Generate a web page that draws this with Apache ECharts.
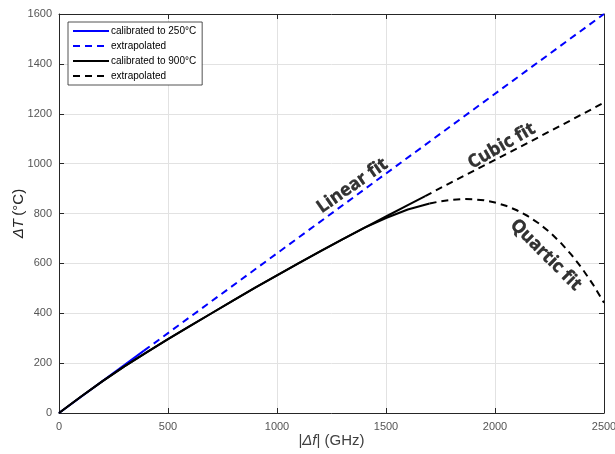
<!DOCTYPE html>
<html><head><meta charset="utf-8">
<script src="https://cdn.jsdelivr.net/npm/echarts@6/dist/echarts.min.js"></script>
<style>html,body{margin:0;padding:0;background:#fff}#c{width:615px;height:454px}</style>
</head><body><div id="c"></div>
<script>
// ---- data ----
const blueSolidF = [0, 390];
const blueSolidT = [0, 250];
const blueDashF = [390, 2500];
const blueDashT = [250, 1600];

const cubicSolidF = [0,100,200,300,400,500,600,700,800,900,1000,1100,1200,1300,1400,1500,1600,1680];
const cubicSolidT = [0,65,128,187,242,296,348,400,452,503,552,601,649,696,742,788,834,870];
const cubicDashF = [1680,1800,1900,2000,2100,2200,2300,2400,2500];
const cubicDashT = [870,925,970,1015,1060,1106,1152,1198,1245];

const quarticSolidF = [0,100,200,300,400,500,600,700,800,900,1000,1100,1200,1300,1400,1500,1600,1700];
const quarticSolidT = [0,65,128,187,242,296,348,400,452,503,552,601,649,696,742,782,816,840];
const quarticDashF = [1700,1750,1800,1850,1900,1950,2000,2050,2100,2150,2200,2250,2300,2350,2400,2450,2500];
const quarticDashT = [840,849,855,858,857,853,844,831,813,790,761,726,684,635,579,515,442];

const legendNames = ['calibrated to 250\u00b0C', 'extrapolated', 'calibrated to 900\u00b0C', 'extrapolated '];

const annoText = ['Linear fit', 'Cubic fit', 'Quartic fit'];
const annoF = [1346, 2031, 2233];
const annoT = [911, 1071, 634];
const annoAngle = [35, 30, -45];

const xMin = 0, xMax = 2500, xStep = 500;
const yMin = 0, yMax = 1600, yStep = 200;

// ---- build ----
const zip = (a, b) => a.map((v, i) => [v, b[i]]);
const lineSeries = (name, fx, ty, color, dashed) => ({
  type: 'line', name: name, data: zip(fx, ty), showSymbol: false, symbol: 'none',
  xAxisIndex: 0, yAxisIndex: 0, animation: false, silent: true,
  lineStyle: { color: color, width: 2, type: dashed ? [7, 5] : 'solid' },
  itemStyle: { color: color }
});

const series = [
  lineSeries(legendNames[0], blueSolidF, blueSolidT, '#0000ff', false),
  lineSeries(legendNames[1], blueDashF, blueDashT, '#0000ff', true),
  lineSeries(legendNames[2], cubicSolidF, cubicSolidT, '#000000', false),
  lineSeries(legendNames[2], quarticSolidF, quarticSolidT, '#000000', false),
  lineSeries(legendNames[3], cubicDashF, cubicDashT, '#000000', true),
  lineSeries(legendNames[3], quarticDashF, quarticDashT, '#000000', true)
];
annoText.forEach((t, i) => {
  series.push({
    type: 'scatter', name: 'anno' + i, data: [[annoF[i], annoT[i]]], symbolSize: 1,
    itemStyle: { color: 'rgba(0,0,0,0)' }, silent: true, animation: false, z: 10,
    label: { show: true, position: 'inside', formatter: t, rotate: annoAngle[i],
      fontFamily: 'Open Sans', fontWeight: 'bold', fontSize: 18, color: '#000',
      textBorderColor: '#000', textBorderWidth: 0.4 }
  });
});

const axisCommon = {
  axisLine: { show: true, onZero: false, lineStyle: { color: '#262626', width: 1 } },
  axisTick: { show: true, inside: true, length: 5, lineStyle: { color: '#262626' } },
};
const plain = v => String(v);

const option = {
  backgroundColor: '#fff',
  animation: false,
  grid: { left: 59, right: 11, top: 14, bottom: 41, containLabel: false, outerBoundsMode: 'none' },
  legend: {
    data: legendNames, orient: 'vertical', left: 68, top: 22,
    itemWidth: 36, itemHeight: 9, itemGap: 5,
    padding: [4, 6, 4, 4],
    itemStyle: { opacity: 0 },
    backgroundColor: '#fff', borderColor: '#262626', borderWidth: 0.8, borderRadius: 0,
    textStyle: { fontFamily: 'Liberation Sans', fontSize: 10, color: '#000', padding: [0, 0, 0, -3] },
    selectedMode: false
  },
  xAxis: [
    Object.assign({
      type: 'value', min: xMin, max: xMax, interval: xStep, position: 'bottom',
      name: '{p||}{i|\u0394f}{p|| (GHz)}', nameLocation: 'middle', nameGap: 20, nameMoveOverlap: false,
      nameTextStyle: { rich: {
        p: { fontFamily: 'Liberation Sans', fontSize: 15, color: '#404040' },
        i: { fontFamily: 'Liberation Sans', fontSize: 15, fontStyle: 'italic', color: '#404040' } } },
      axisLabel: { fontFamily: 'Liberation Sans', fontSize: 11, color: '#555', margin: 8, formatter: plain },
      splitLine: { show: true, lineStyle: { color: '#e2e2e2', width: 1 } }
    }, axisCommon),
    Object.assign({
      type: 'value', min: xMin, max: xMax, interval: xStep, position: 'top',
      axisLabel: { show: false }, splitLine: { show: false }
    }, axisCommon)
  ],
  yAxis: [
    Object.assign({
      type: 'value', min: yMin, max: yMax, interval: yStep, position: 'left',
      name: '{i|\u0394T} {p|(\u00b0C)}', nameLocation: 'middle', nameGap: 33, nameRotate: 90, nameMoveOverlap: false,
      nameTextStyle: { rich: {
        p: { fontFamily: 'Liberation Sans', fontSize: 15, color: '#262626' },
        i: { fontFamily: 'Liberation Sans', fontSize: 15, fontStyle: 'italic', color: '#262626' } } },
      axisLabel: { fontFamily: 'Liberation Sans', fontSize: 11, color: '#555', margin: 7, formatter: plain },
      splitLine: { show: true, lineStyle: { color: '#e2e2e2', width: 1 } }
    }, axisCommon),
    Object.assign({
      type: 'value', min: yMin, max: yMax, interval: yStep, position: 'right',
      axisLabel: { show: false }, splitLine: { show: false }
    }, axisCommon)
  ],
  series: series
};

const chart = echarts.init(document.getElementById('c'), null, { renderer: 'canvas' });
chart.setOption(option);
</script>
</body></html>
